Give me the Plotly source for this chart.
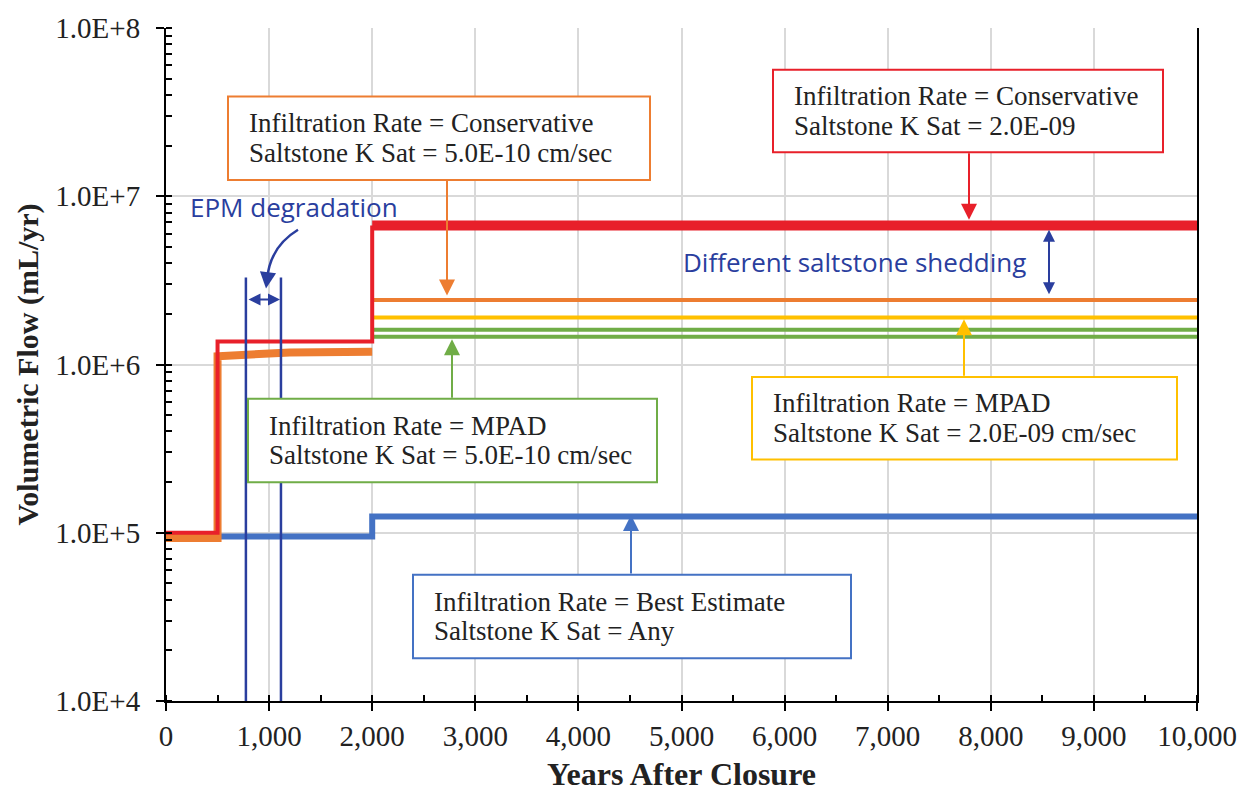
import plotly.graph_objects as go

# ---- data (years, mL/yr) ----
red_early_x = [0, 500, 2000]
red_early_y = [1.0e5, 1.37e6, 6.7e6]
red_late_x = [2000, 10000]
red_late_y = [6.7e6, 6.7e6]

orange_early_x = [0, 500, 500, 800, 1200, 2000]
orange_early_y = [9.3e4, 9.3e4, 1.12e6, 1.15e6, 1.18e6, 1.19e6]
orange_late_x = [2000, 10000]
orange_late_y = [2.42e6, 2.42e6]

yellow_x = [2000, 10000]
yellow_y = [1.90e6, 1.90e6]

green1_x = [2000, 10000]
green1_y = [1.61e6, 1.61e6]
green2_x = [2000, 10000]
green2_y = [1.46e6, 1.46e6]

blue_x = [0, 500, 2000, 10000]
blue_y = [9.5e4, 9.5e4, 1.25e5, 1.25e5]

epm_x = [775, 1115]

ytick_vals = [1e4, 1e5, 1e6, 1e7, 1e8]
ytick_text = ["1.0E+4", "1.0E+5", "1.0E+6", "1.0E+7", "1.0E+8"]
xtick_vals = list(range(0, 10001, 1000))
xtick_text = ["0", "1,000", "2,000", "3,000", "4,000", "5,000", "6,000",
              "7,000", "8,000", "9,000", "10,000"]

RED = "#E8202A"
ORANGE = "#ED7D31"
YELLOW = "#FFC000"
GREEN = "#70AD47"
BLUE = "#4472C4"
DBLUE = "#2A3E9E"
SERIF = "Liberation Serif"
SANS = "Open Sans"
TXT = "#222222"

L, R, T, B = 166, 52, 25, 96
W, H = 1249, 798
PW, PH = W - L - R, H - T - B


def px(x):
    return (x - L) / PW


def py(y):
    return (H - B - y) / PH


fig = go.Figure()


def add(x, y, color, width, shape="hv"):
    fig.add_trace(go.Scatter(x=x, y=y, mode="lines",
                             line=dict(color=color, width=width, shape=shape),
                             showlegend=False, hoverinfo="skip"))


add(blue_x, blue_y, BLUE, 6)
add(green1_x, green1_y, GREEN, 4)
add(green2_x, green2_y, GREEN, 4)
add(yellow_x, yellow_y, YELLOW, 4)
add(orange_early_x, orange_early_y, ORANGE, 8, "linear")
add(orange_late_x, orange_late_y, ORANGE, 4)
add(red_early_x, red_early_y, RED, 4)
add(red_late_x, red_late_y, RED, 10)

shapes = []
# EPM vertical lines
for xv in epm_x:
    shapes.append(dict(type="line", xref="x", yref="paper", x0=xv, x1=xv,
                       y0=0, y1=py(276), line=dict(color=DBLUE, width=2.5)))

boxes = [
    (228, 94, 650, 178, ORANGE,
     ["Infiltration Rate = Conservative", "Saltstone K Sat = 5.0E-10 cm/sec"]),
    (773, 67, 1163, 150, RED,
     ["Infiltration Rate = Conservative", "Saltstone K Sat = 2.0E-09"]),
    (248, 398, 657, 482, GREEN,
     ["Infiltration Rate = MPAD", "Saltstone K Sat = 5.0E-10 cm/sec"]),
    (752, 376, 1177, 459, YELLOW,
     ["Infiltration Rate = MPAD", "Saltstone K Sat = 2.0E-09 cm/sec"]),
    (413, 575, 851, 659, BLUE,
     ["Infiltration Rate = Best Estimate", "Saltstone K Sat = Any"]),
]
annotations = []
for x0, y0, x1, y1, c, lines in boxes:
    shapes.append(dict(type="rect", xref="paper", yref="paper",
                       x0=px(x0), x1=px(x1), y0=py(y1), y1=py(y0),
                       fillcolor="white", line=dict(color=c, width=2),
                       layer="above"))
    mid = (y0 + y1) / 2
    for k, txt in enumerate(lines):
        annotations.append(dict(xref="paper", yref="paper", x=px(x0 + 19),
                                y=py(mid - 15 + 30 * k), xanchor="left",
                                yanchor="middle", align="left", text=txt,
                                showarrow=False,
                                font=dict(family=SERIF, size=27, color=TXT)))

# pointer arrows (head x, head y, tail offset ay, colour)
arrows = [(447, 294, -116, ORANGE), (969, 218, -68, RED),
          (452, 338, 60, GREEN), (964, 318, 58, YELLOW),
          (631, 515, 60, BLUE)]
for hx, hy, ay, c in arrows:
    annotations.append(dict(xref="paper", yref="paper", x=px(hx), y=py(hy),
                            ax=0, ay=ay, text="", showarrow=True,
                            arrowhead=2, arrowsize=1.6, arrowwidth=2,
                            arrowcolor=c, standoff=0))

# double arrows
annotations.append(dict(xref="paper", yref="paper", x=px(280), y=py(298),
                        ax=-33, ay=0, text="", showarrow=True, arrowhead=2,
                        startarrowhead=2, arrowside="end+start", arrowsize=1.2,
                        arrowwidth=2, arrowcolor=DBLUE, standoff=0,
                        startstandoff=0))
annotations.append(dict(xref="paper", yref="paper", x=px(1049), y=py(228),
                        ax=0, ay=66, text="", showarrow=True, arrowhead=2,
                        startarrowhead=2, arrowside="end+start", arrowsize=1.2,
                        arrowwidth=2, arrowcolor=DBLUE, standoff=0,
                        startstandoff=0))

# curved arrow EPM
path = "M {},{} Q {},{} {},{}".format(px(298), py(228), px(270), py(245),
                                      px(267), py(278))
shapes.append(dict(type="path", xref="paper", yref="paper", path=path,
                   line=dict(color=DBLUE, width=2.5)))
annotations.append(dict(xref="paper", yref="paper", x=px(266), y=py(287),
                        ax=1, ay=-8, text="", showarrow=True, arrowhead=2,
                        arrowsize=1.3, arrowwidth=2.5, arrowcolor=DBLUE,
                        standoff=0))

annotations.append(dict(xref="paper", yref="paper", x=px(188), y=py(205),
                        xanchor="left", yanchor="middle",
                        text="EPM degradation", showarrow=False,
                        font=dict(family=SANS, size=26, color=DBLUE)))
annotations.append(dict(xref="paper", yref="paper", x=px(681), y=py(260),
                        xanchor="left", yanchor="middle",
                        text="Different saltstone shedding", showarrow=False,
                        font=dict(family=SANS, size=26, color=DBLUE)))

fig.update_layout(
    width=W, height=H, margin=dict(l=L, r=R, t=T, b=B),
    paper_bgcolor="white", plot_bgcolor="white",
    shapes=shapes, annotations=annotations,
    xaxis=dict(range=[0, 10000], tickvals=xtick_vals, ticktext=xtick_text,
               showgrid=True, gridcolor="#D9D9D9", gridwidth=1.5,
               showline=True, linecolor="black", linewidth=2,
               ticks="outside", ticklen=8, tickwidth=2, tickcolor="black",
               minor=dict(ticks="inside", ticklen=6, tickwidth=2,
                          tickcolor="black", dtick=500, showgrid=False),
               tickfont=dict(family=SERIF, size=29, color=TXT),
               title=dict(text="<b>Years After Closure</b>", standoff=12,
                          font=dict(family=SERIF, size=32, color=TXT)),
               zeroline=False),
    yaxis=dict(type="log", range=[4, 8], tickvals=ytick_vals,
               ticktext=ytick_text, showgrid=True, gridcolor="#D9D9D9",
               gridwidth=1.5, showline=True, linecolor="black", linewidth=2,
               mirror=True, ticks="outside", ticklen=8, tickwidth=2,
               tickcolor="black",
               minor=dict(ticks="inside", ticklen=6, tickwidth=2,
                          tickcolor="black", dtick="D1", showgrid=False),
               tickfont=dict(family=SERIF, size=29, color=TXT),
               ticklabelstandoff=10,
               title=dict(text="<b>Volumetric Flow (mL/yr)</b>", standoff=8,
                          font=dict(family=SERIF, size=30, color=TXT)),
               zeroline=False),
)

fig.write_html("out.html")
